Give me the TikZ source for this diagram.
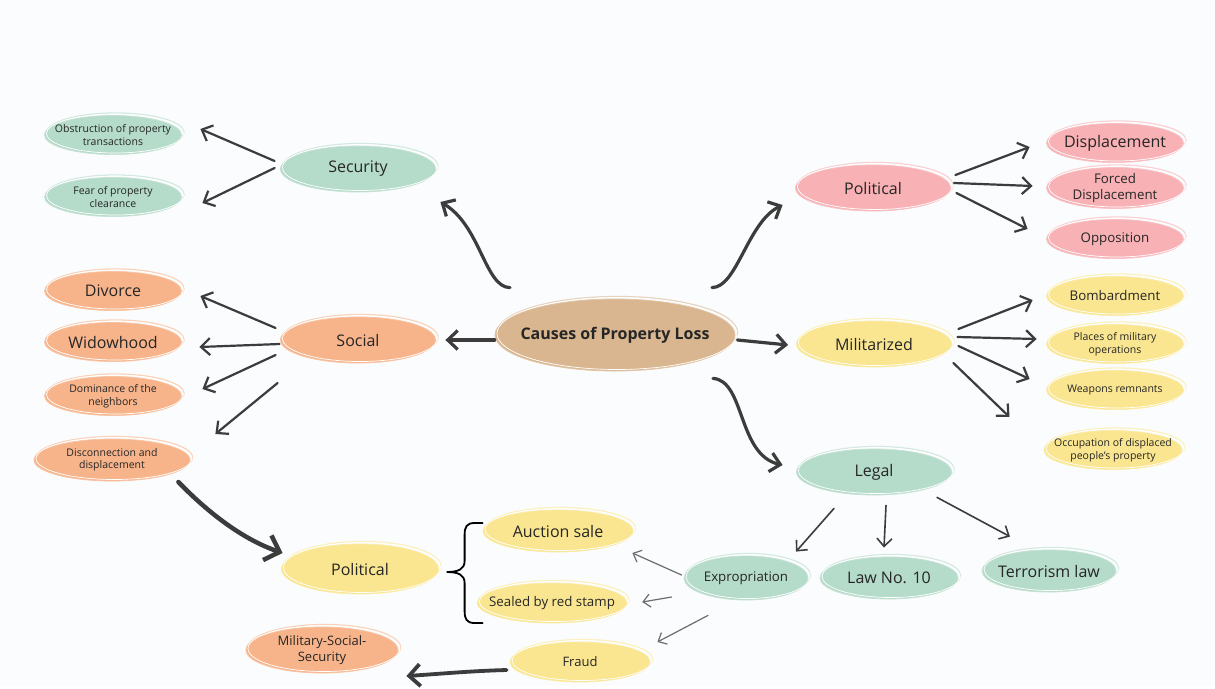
\documentclass[tikz,border=0pt]{standalone}
\usepackage{fontspec}
\setmainfont{Open Sans}
\usetikzlibrary{shapes.geometric}
\usetikzlibrary{arrows.meta,calc}
\definecolor{paper}{HTML}{FAFCFD}
\definecolor{sage}{HTML}{B5DBCA}
\definecolor{peach}{HTML}{F7B48B}
\definecolor{rose}{HTML}{F8B1B5}
\definecolor{lemon}{HTML}{FAE690}
\definecolor{sand}{HTML}{D9B690}
\definecolor{ink}{HTML}{3C3C3C}

\begin{document}
\begin{tikzpicture}[x=1pt, y=-1pt,
            bubble/.style={ellipse, inner xsep=-10pt, inner ysep=-4pt, align=center, text=black!85, fill=#1, draw=#1!80!white, line width=0.8pt,
                preaction={draw=#1!60!white, line width=1.3pt, transform canvas={shift={(2.5pt,2.5pt)}}},
                postaction={draw=white, line width=0.7pt, transform canvas={shift={(2pt,1.5pt)}}}},
            hub/.style={minimum width=155, minimum height=46, font=\fontsize{16}{19}\selectfont},
            leaf/.style={minimum width=137, minimum height=39, font=\fontsize{10.5}{12.5}\selectfont},
            big/.style={font=\fontsize{16}{19}\selectfont},
            mid/.style={font=\fontsize{13.3}{16}\selectfont},
            heavy/.style={draw=ink, line width=3.2pt, line cap=round, -{Straight Barb[length=10pt, width=19pt]}},
            plain/.style={draw=ink, line width=2.2pt, line cap=round, -{Straight Barb[length=9pt, width=17pt]}},
            light/.style={draw=ink, line width=1.6pt, line cap=round, -{Straight Barb[length=8pt, width=15pt]}},
            faint/.style={draw=ink!75, line width=1.2pt, line cap=round, -{Straight Barb[length=7pt, width=13pt]}}
            ]
            \fill[paper] (0,0) rectangle (1215,686);
            \node[bubble=sand, minimum width=240, minimum height=72, font=\bfseries\fontsize{16}{19}\selectfont] (cause) at (615,335) {Causes of Property Loss};

            \node[bubble=sage, hub] (security) at (358,169) {Security};
            \node[bubble=sage, leaf] (obstruction) at (113,135) {Obstruction of property\\transactions};
            \node[bubble=sage, leaf] (fear) at (113,197) {Fear of property\\clearance};

            \node[bubble=peach, hub] (social) at (358,340) {Social};
            \node[bubble=peach, leaf, big] (divorce) at (113,291) {Divorce};
            \node[bubble=peach, leaf, big] (widow) at (113,342) {Widowhood};
            \node[bubble=peach, leaf] (dominance) at (113,396) {Dominance of the\\neighbors};
            \node[bubble=peach, leaf, minimum width=156, minimum height=42] (disconnect) at (112,460) {Disconnection and\\displacement};

            \node[bubble=rose, hub] (political) at (873,188) {Political};
            \node[bubble=rose, leaf, big] (displacement) at (1115,143) {Displacement};
            \node[bubble=rose, leaf, mid, minimum height=41] (forced) at (1115,188) {Forced\\Displacement};
            \node[bubble=rose, leaf, mid] (opposition) at (1115,239) {Opposition};

            \node[bubble=lemon, hub] (militarized) at (874,344) {Militarized};
            \node[bubble=lemon, leaf, mid] (bombard) at (1115,296) {Bombardment};
            \node[bubble=lemon, leaf] (places) at (1115,344) {Places of military\\operations};
            \node[bubble=lemon, leaf] (weapons) at (1115,390) {Weapons remnants};
            \node[bubble=lemon, leaf, minimum width=138] (occupation) at (1113,450) {Occupation of displaced\\people's property};

            \node[bubble=sage, hub] (legal) at (874,472) {Legal};
            \node[bubble=sage, minimum width=124, minimum height=44, font=\fontsize{13.3}{16}\selectfont] (exprop) at (746,578) {Expropriation};
            \node[bubble=sage, big, minimum width=138, minimum height=42] (lawten) at (889,578) {Law No. 10};
            \node[bubble=sage, big, minimum width=134, minimum height=42] (terror) at (1049,571) {Terrorism law};

            \node[bubble=lemon, big, minimum width=157, minimum height=50] (polbottom) at (360,569) {Political};
            \node[bubble=lemon, big, minimum width=150, minimum height=42] (auction) at (558,531) {Auction sale};
            \node[bubble=lemon, minimum width=138, minimum height=40, font=\fontsize{13.3}{16}\selectfont] (sealed) at (552,603) {Sealed by red stamp};
            \node[bubble=lemon, minimum width=140, minimum height=40, font=\fontsize{13}{15}\selectfont] (fraud) at (580,662) {Fraud};
            \node[bubble=peach, minimum width=152, minimum height=46, font=\fontsize{13}{16}\selectfont] (mixed) at (322,650) {Military-Social-\\Security};

            \draw[heavy] ($(cause.north)+(-105,-11)$) .. controls ($(cause.north)+(-130,-11)$) and ($(security.east)+(44.5,56)$) .. ($(security.east)+(4.5,33)$);
            \draw[heavy] ($(cause.north)+(97,-11)$) .. controls ($(cause.north)+(122,-11)$) and ($(political.west)+(-47.5,34)$) .. ($(political.west)+(-12.5,17)$);
            \draw[heavy] ($(cause.south)+(98,7)$) .. controls ($(cause.south)+(130,9)$) and ($(legal.west)+(-58.5,-17)$) .. ($(legal.west)+(-13.5,-7)$);
            \draw[heavy] ($(cause.west)+(0,5)$) -- ($(social.east)+(9.5,0)$);
            \draw[heavy] ($(cause.east)+(2,5)$) -- ($(militarized.west)+(-8,1)$);

            \draw[plain] ($(security.west)+(-5.5,-8)$) -- ($(obstruction.east)+(18.5,-6)$);
            \draw[plain] ($(security.west)+(-5.5,-1)$) -- ($(fear.east)+(20.5,6)$);

            \draw[plain] ($(social.west)+(-4.5,-12)$) -- ($(divorce.east)+(18.5,5)$);
            \draw[plain] ($(social.west)+(-0.5,4)$) -- ($(widow.east)+(17.5,5)$);
            \draw[plain] ($(social.west)+(-4.5,15)$) -- ($(dominance.east)+(20.5,-7)$);
            \draw[plain] ($(social.west)+(-2.5,43)$) -- ($(disconnect.east)+(25,-26)$);

            \draw[plain] ($(political.east)+(4.5,-13)$) -- ($(displacement.west)+(-16.5,4)$);
            \draw[plain] ($(political.east)+(3,-5)$) -- ($(forced.west)+(-13.5,-2)$);
            \draw[plain] ($(political.east)+(5.5,5)$) -- ($(opposition.west)+(-18.5,-10)$);

            \draw[plain] ($(militarized.east)+(6.5,-15)$) -- ($(bombard.west)+(-13.5,4)$);
            \draw[plain] ($(militarized.east)+(5.5,-7)$) -- ($(places.west)+(-9.5,-5)$);
            \draw[plain] ($(militarized.east)+(6.5,2)$) -- ($(weapons.west)+(-16.5,-11)$);
            \draw[plain] ($(militarized.east)+(1.5,19)$) -- ($(occupation.west)+(-34,-33)$);

            \draw[light] ($(legal.south)+(-40,13)$) -- ($(exprop.north)+(50,-4)$);
            \draw[light] ($(legal.south)+(12,10)$) -- ($(lawten.north)+(-5,-9)$);
            \draw[light] ($(legal.south)+(63,2)$) -- ($(terror.north)+(-39,-13)$);

            \draw[faint] ($(exprop.west)+(-2,-3)$) -- ($(auction.east)+(-1,22)$);
            \draw[faint] ($(exprop.west)+(-12,19)$) -- ($(sealed.east)+(15,-1)$);
            \draw[faint] ($(exprop.south)+(-38,15)$) -- ($(fraud.east)+(7,-20)$);

            \draw[heavy, line width=4.5pt, -{Straight Barb[length=13pt, width=26pt]}] ($(disconnect.east)+(-12,22)$) .. controls ($(disconnect.east)+(20,55)$) and ($(polbottom.west)+(-36.5,-29)$) .. ($(polbottom.west)+(1.5,-16)$);
            \draw[heavy, line width=3.8pt, -{Straight Barb[length=11pt, width=22pt]}] ($(fraud.west)+(-3,8)$) .. controls ($(fraud.west)+(-40,9)$) and ($(mixed.east)+(40,24)$) .. ($(mixed.east)+(8,26)$);

            \draw[line width=1.8pt, line cap=round, shift={(auction.west)}] (0,-8) -- (-8,-8) .. controls (-16,-8) and (-18,-4) .. (-18,4) -- (-18,30) .. controls (-18,38) and (-24,41) .. (-36,41) .. controls (-24,41) and (-18,44) .. (-18,52) -- (-18,80) .. controls (-18,88) and (-16,92) .. (-8,92) -- (0,92);
        \end{tikzpicture}
\end{document}
